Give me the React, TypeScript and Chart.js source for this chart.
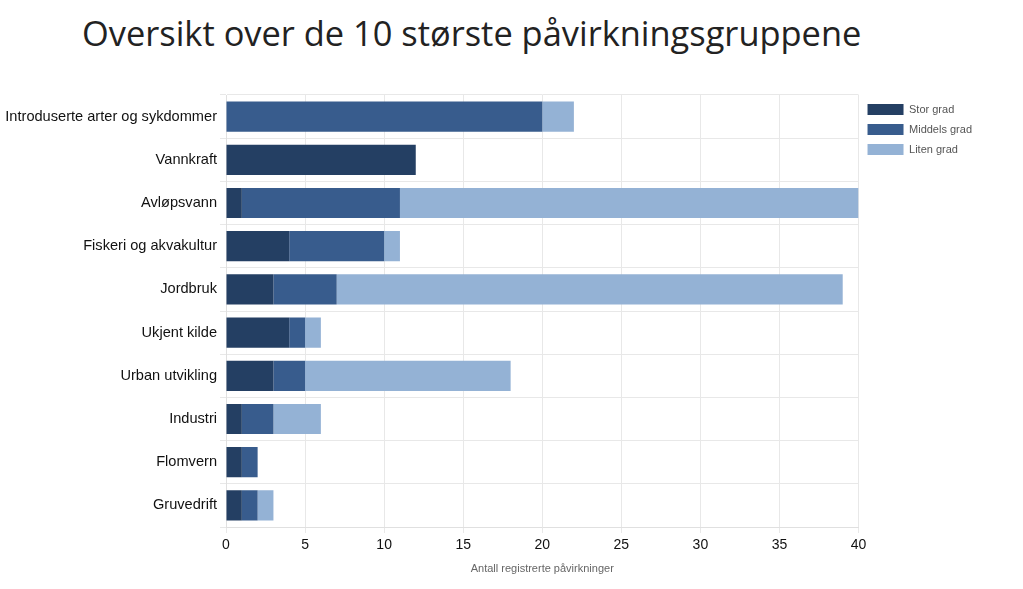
import React, { useEffect, useRef } from "react";
import { Chart, registerables } from "chart.js";

Chart.register(...registerables);

const categories = [
  "Introduserte arter og sykdommer",
  "Vannkraft",
  "Avløpsvann",
  "Fiskeri og akvakultur",
  "Jordbruk",
  "Ukjent kilde",
  "Urban utvikling",
  "Industri",
  "Flomvern",
  "Gruvedrift",
];

const storGrad = [0, 12, 1, 4, 3, 4, 3, 1, 1, 1];
const middelsGrad = [20, 0, 10, 6, 4, 1, 2, 2, 1, 1];
const litenGrad = [2, 0, 29, 1, 32, 1, 13, 3, 0, 1];

const xTicks = [0, 5, 10, 15, 20, 25, 30, 35, 40];

const seriesNames = ["Stor grad", "Middels grad", "Liten grad"];
const seriesColors = ["#243f63", "#385c8d", "#94b2d5"];

export default function App() {
  const canvasRef = useRef<HTMLCanvasElement | null>(null);

  useEffect(() => {
    if (!canvasRef.current) return;
    const chart = new Chart(canvasRef.current, {
      type: "bar",
      data: {
        labels: categories,
        datasets: [storGrad, middelsGrad, litenGrad].map((d, i) => ({
          label: seriesNames[i],
          data: d,
          backgroundColor: seriesColors[i],
          borderWidth: 0,
          categoryPercentage: 1,
          barPercentage: 0.7,
        })),
      },
      options: {
        indexAxis: "y",
        animation: false,
        responsive: false,
        layout: { padding: { top: 95, left: 0, right: 41, bottom: 13 } },
        scales: {
          x: {
            stacked: true,
            min: 0,
            max: 40,
            afterBuildTicks: (scale: any) => {
              scale.ticks = xTicks.map((v) => ({ value: v }));
            },
            afterFit: (scale: any) => {
              scale.height = 49;
            },
            grid: { color: "#e8e8e8", tickLength: 6 },
            border: { color: "#e0e0e0" },
            ticks: {
              color: "#111",
              font: { family: "Liberation Sans, Arial", size: 14 },
              padding: 4,
            },
            title: {
              display: true,
              text: "Antall registrerte påvirkninger",
              color: "#666",
              font: { family: "Liberation Sans, Arial", size: 11 },
              padding: { top: 6, bottom: 0 },
            },
          },
          y: {
            stacked: true,
            afterFit: (scale: any) => {
              scale.width = 226;
            },
            grid: { color: "#e8e8e8", tickLength: 6, offset: true },
            border: { color: "#e0e0e0" },
            ticks: {
              color: "#111",
              font: { family: "Liberation Sans, Arial", size: 14.6 },
              padding: 3,
            },
          },
        },
        plugins: {
          legend: {
            position: "right",
            align: "start",
            labels: {
              boxWidth: 36,
              boxHeight: 11,
              color: "#555",
              font: { family: "Liberation Sans, Arial", size: 11 },
              padding: 9,
            },
          },
          tooltip: { enabled: false },
        },
      },
    });
    return () => chart.destroy();
  }, []);

  return (
    <div
      style={{
        position: "fixed",
        left: 0,
        top: 0,
        width: 1023,
        height: 589,
        background: "#fff",
      }}
    >
      <div
        style={{
          position: "absolute",
          left: 82,
          top: 9,
          fontFamily: "'Open Sans', sans-serif",
          fontSize: 34.4,
          color: "#222",
          whiteSpace: "nowrap",
        }}
      >
        Oversikt over de 10 største påvirkningsgruppene
      </div>
      <canvas
        ref={canvasRef}
        width={1023}
        height={589}
        style={{ position: "absolute", left: 0, top: 0 }}
      />
    </div>
  );
}
